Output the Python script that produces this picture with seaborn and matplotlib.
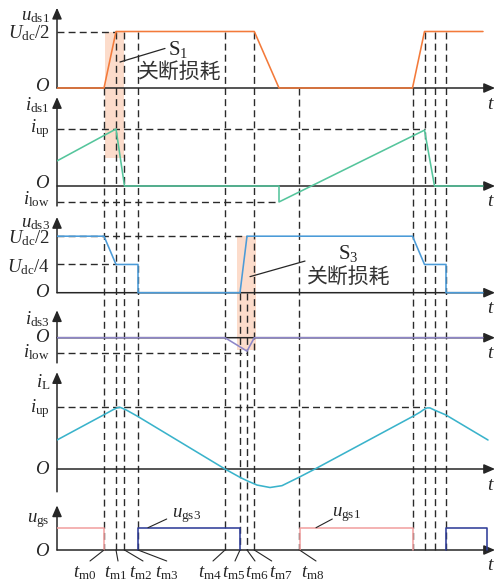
import matplotlib
matplotlib.use("Agg")
import matplotlib.pyplot as plt
import matplotlib.transforms as mtransforms
from matplotlib.lines import Line2D
from matplotlib.patches import Polygon
import pandas as pd
import seaborn as sns

# ---------------------------------------------------------------- data
# switching instants on the common time axis (origin at the vertical axes)
tm = [47, 59, 67.5, 81, 168, 183, 190, 197.3, 242.5]      # t_m0 ... t_m8
tm_next = [355.5, 367.5, 377.5, 389]                      # t_m0 ... t_m3, next cycle
tm_names = [r"$t_{\mathrm{m%d}}$" % k for k in range(9)]
t_zero = 222          # u_ds1 reaches zero, i_ds1 steps to i_low
t_end = 426
t_span = 438

# levels: voltages in U_dc, currents in i_up
U_half = 0.5
U_quarter = 0.25
i_up = 1.0
i_low = -0.28

uds1_t = [0, tm[0], tm[1], tm[7], t_zero, tm_next[0], tm_next[1], t_end]
uds1_v = [0, 0, U_half, U_half, 0, 0, U_half, U_half]

ids1_t = [0, tm[1], tm[2], t_zero, t_zero, tm_next[1], tm_next[2], t_end]
ids1_v = [0.44, 1.0, 0, 0, i_low, 0.98, 0, 0]

uds3_t = [0, tm[0], tm[1], tm[3], tm[3], tm[5], tm[6],
          tm_next[0], tm_next[1], tm_next[3], tm_next[3], t_end]
uds3_v = [U_half, U_half, U_quarter, U_quarter, 0, 0, U_half,
          U_half, U_quarter, U_quarter, 0, 0]

ids3_t = [0, tm[4], tm[6], tm[7], t_end]
ids3_v = [0, 0, -0.24, 0, 0]

iL_t = [0, 47, 56, 60, 63, 66, 70, 81, 168, 183, 190, 200, 213, 225, 235,
        242.5, 258, 355.5, 363, 366.5, 370, 373, 377.5, 389, 431]
iL_v = [0.47, 0.88, 0.96, 0.99, 1.0, 0.98, 0.95, 0.85, 0, -0.135, -0.19,
        -0.26, -0.30, -0.27, -0.19, -0.13, 0, 0.85, 0.92, 0.96, 0.99, 0.99,
        0.955, 0.875, 0.47]

ugs1_seg = [0, 0, 0, 1, 1, 1, 1]
ugs1_t = [0, tm[0], tm[0], tm[8], tm[8], tm_next[0], tm_next[0]]
ugs1_v = [1, 1, 0, 0, 1, 1, 0]

ugs3_seg = [0, 0, 0, 0, 1, 1, 1, 1]
ugs3_t = [tm[3], tm[3], tm[5], tm[5], tm_next[3], tm_next[3], 429.7, 429.7]
ugs3_v = [0, 1, 1, 0, 0, 1, 1, 0]

# ---------------------------------------------------------------- style
sns.set_theme(style="white")
plt.rcParams["font.family"] = ["Liberation Serif", "Noto Sans CJK SC", "DejaVu Sans"]
plt.rcParams["mathtext.fontset"] = "custom"
plt.rcParams["mathtext.rm"] = "Liberation Serif"
plt.rcParams["mathtext.it"] = "Liberation Serif:italic"
plt.rcParams["mathtext.bf"] = "Liberation Serif:bold"

ORANGE = "#f37a3a"
GREEN = "#55c59c"
BLUE = "#4b9bd8"
PURPLE = "#8e86c7"
CYAN = "#3ab3cb"
PINK = "#f2a2a2"
NAVY = "#2f3d99"
SHADE = "#fcdccb"
AXC = "#262626"
DASHC = "#2a2a2a"
FS = 13.5
DASH = (0, (5, 3))
WLW = 1.15

W, H = 496, 583
X0 = 57
fig = plt.figure(figsize=(W / 100, H / 100), dpi=100)


def make_panel(zero_px, unit_px):
    ax = fig.add_axes([X0 / W, 0, t_span / W, 1])
    ax.set_xlim(0, t_span)
    ax.set_ylim((zero_px - H) / unit_px, zero_px / unit_px)
    ax.set_axis_off()
    return ax


ax1 = make_panel(88, 113)      # u_ds1
ax2 = make_panel(186, 57)      # i_ds1
ax3 = make_panel(292.7, 113)   # u_ds3
ax4 = make_panel(337.7, 56)    # i_ds3
ax5 = make_panel(469, 61.7)    # i_L
ax6 = make_panel(550, 22.3)    # u_gs

arrow_kw = dict(arrowstyle="-|>,head_length=0.55,head_width=0.24", color=AXC,
                lw=1.1, mutation_scale=12, shrinkA=0, shrinkB=0)


def axes_arrows(ax, ybot, ytop):
    ax.annotate("", xy=(t_span, 0), xytext=(0, 0), arrowprops=arrow_kw,
                annotation_clip=False, zorder=2)
    ax.annotate("", xy=(0, ytop), xytext=(0, ybot), arrowprops=arrow_kw,
                annotation_clip=False, zorder=2)
    tr = mtransforms.offset_copy(ax.transData, fig=fig, x=0, y=-16, units="dots")
    ax.text(434, 0, "$t$", transform=tr, ha="center", va="center", fontsize=FS + 0.5)


axes_arrows(ax1, 0, 0.71)
axes_arrows(ax2, -0.35, 1.56)
axes_arrows(ax3, 0, 0.67)
axes_arrows(ax4, -0.45, 0.49)
axes_arrows(ax5, -0.37, 1.57)
axes_arrows(ax6, 0, 2.0)


def hdash(ax, level, t0, t1):
    ax.plot([t0, t1], [level, level], ls=DASH, lw=1.0, color=DASHC, zorder=1)


hdash(ax1, U_half, 0, tm[1])
hdash(ax2, i_up, 0, tm_next[1])
hdash(ax2, i_low, 0, t_zero)
hdash(ax3, U_half, 0, tm[6])
hdash(ax3, U_quarter, 0, tm[1])
hdash(ax4, i_low, 0, tm[6])
hdash(ax5, i_up, 0, tm_next[1])


def wave(ax, t, v, color, units=None):
    df = pd.DataFrame({"t": t, "v": v})
    kw = {}
    if units is not None:
        df["seg"] = units
        kw["units"] = "seg"
    sns.lineplot(data=df, x="t", y="v", ax=ax, sort=False, estimator=None,
                 color=color, lw=WLW, zorder=3, legend=False, **kw)
    ax.set_axis_off()


wave(ax1, uds1_t, uds1_v, ORANGE)
wave(ax2, ids1_t, ids1_v, GREEN)
wave(ax3, uds3_t, uds3_v, BLUE)
wave(ax4, ids3_t, ids3_v, PURPLE)
wave(ax5, iL_t, iL_v, CYAN)
wave(ax6, ugs1_t, ugs1_v, PINK, ugs1_seg)
wave(ax6, ugs3_t, ugs3_v, NAVY, ugs3_seg)
for ax in (ax1, ax2, ax3, ax4, ax5, ax6):
    ax.set_xlim(0, t_span)


def to_fig(ax, t, v):
    return fig.transFigure.inverted().transform(ax.transData.transform((t, v)))


# turn-off loss windows
def shade(ax_top, v_top, ax_bot, v_bot, t0, t1):
    pts = [to_fig(ax_top, t0, v_top), to_fig(ax_top, t1, v_top),
           to_fig(ax_bot, t1, v_bot), to_fig(ax_bot, t0, v_bot)]
    fig.add_artist(Polygon(pts, closed=True, transform=fig.transFigure,
                           facecolor=SHADE, edgecolor="none", zorder=-2))


shade(ax1, U_half, ax2, 0.49, tm[0] + 1, tm[2])
shade(ax3, U_half, ax4, -0.22, 180, 198.5)

# vertical guide lines at the switching instants
guides = [
    (tm[0], ax1, 0), (tm[1], ax1, U_half), (tm[2], ax1, U_half),
    (tm[3], ax1, U_half), (tm[4], ax1, U_half), (tm[5], ax3, 0),
    (tm[6], ax3, 0), (tm[7], ax1, U_half), (tm[8], ax1, 0),
    (tm_next[0], ax1, 0), (tm_next[1], ax1, U_half),
    (tm_next[2], ax1, U_half), (tm_next[3], ax1, U_half),
]
for t, ax_top, v_top in guides:
    p0 = to_fig(ax_top, t, v_top)
    p1 = to_fig(ax6, t, 0)
    fig.add_artist(Line2D([p0[0], p1[0]], [p0[1], p1[1]], transform=fig.transFigure,
                          ls=DASH, lw=1.0, color=DASHC, zorder=-1))


# vertical-axis labels (baseline placed dy pixels from the level)
def ylab(ax, level, text, dy=0.0, va="baseline"):
    tr = mtransforms.offset_copy(ax.transData, fig=fig, x=-7, y=dy, units="dots")
    ax.text(0, level, text, transform=tr, ha="right", va=va, fontsize=FS)


ylab(ax1, 0.60, r"$u_{\mathrm{ds1}}$")
ylab(ax1, U_half, r"$U_{\mathrm{dc}}/2$", -6.5)
ylab(ax1, 0, "$O$", 2, "center")
ylab(ax2, 1.33, r"$i_{\mathrm{ds1}}$")
ylab(ax2, i_up, r"$i_{\mathrm{up}}$", -3.5)
ylab(ax2, 0, "$O$", 2, "center")
ylab(ax2, i_low, r"$i_{\mathrm{low}}$", -2)
ylab(ax3, 0.58, r"$u_{\mathrm{ds3}}$")
ylab(ax3, U_half, r"$U_{\mathrm{dc}}/2$", -7)
ylab(ax3, U_quarter, r"$U_{\mathrm{dc}}/4$", -7.5)
ylab(ax3, 0, "$O$", 0, "center")
ylab(ax4, 0.245, r"$i_{\mathrm{ds3}}$")
ylab(ax4, 0, "$O$", 0.5, "center")
ylab(ax4, i_low, r"$i_{\mathrm{low}}$", -3.5)
ylab(ax5, 1.33, r"$i_{\mathrm{L}}$")
ylab(ax5, i_up, r"$i_{\mathrm{up}}$", -5.5)
ylab(ax5, 0, "$O$", 0, "center")
ylab(ax6, 1.26, r"$u_{\mathrm{gs}}$")
ylab(ax6, 0, "$O$", -1, "center")

# switching-instant labels with leaders
label_dx = [-19, 0, 16.5, 29, -15, -6, 10, 26.7, 13.5]
leader_dx = [-14, 2, 18.5, 28.7, -12, -5, 8, 17.4, 16.5]
for t, name, ldx, adx in zip(tm, tm_names, label_dx, leader_dx):
    ax6.annotate("", xy=(t, 0), xytext=(adx, -11), textcoords="offset pixels",
                 arrowprops=dict(arrowstyle="-", color=AXC, lw=0.8,
                                 shrinkA=0, shrinkB=0), annotation_clip=False)
    tr = mtransforms.offset_copy(ax6.transData, fig=fig, x=ldx, y=-27, units="dots")
    ax6.text(t, 0, name, transform=tr, ha="center", va="baseline", fontsize=FS)

# gate signal names
thin_kw = dict(arrowstyle="-", color=AXC, lw=0.8, shrinkA=0, shrinkB=0)
ax6.annotate("", xy=(91, 1), xytext=(109.7, 1.39), arrowprops=thin_kw)
ax6.text(115, 1.48, r"$u_{\mathrm{gs3}}$", ha="left", va="baseline", fontsize=FS)
ax6.annotate("", xy=(259, 1), xytext=(275.3, 1.39), arrowprops=thin_kw)
ax6.text(275, 1.49, r"$u_{\mathrm{gs1}}$", ha="left", va="baseline", fontsize=FS)

# turn-off loss notes
line_kw = dict(arrowstyle="-", color=AXC, lw=0.9, shrinkA=0, shrinkB=0)
ax1.annotate("", xy=(63, 0.23), xytext=(108, 0.35), arrowprops=line_kw)
ax1.text(121, 0.36, r"$\mathrm{S}_1$", ha="center", va="center_baseline", fontsize=15)
ax1.text(123, 0.144, "关断损耗", ha="center", va="center", fontsize=15,
         family=["Noto Sans CJK SC"], color="#333333")
ax3.annotate("", xy=(193, 0.142), xytext=(248, 0.28), arrowprops=line_kw)
ax3.text(291, 0.37, r"$\mathrm{S}_3$", ha="center", va="center_baseline", fontsize=15)
ax3.text(291.3, 0.14, "关断损耗", ha="center", va="center", fontsize=15,
         family=["Noto Sans CJK SC"], color="#333333")

fig.savefig("out.png", dpi=100, facecolor="white")
